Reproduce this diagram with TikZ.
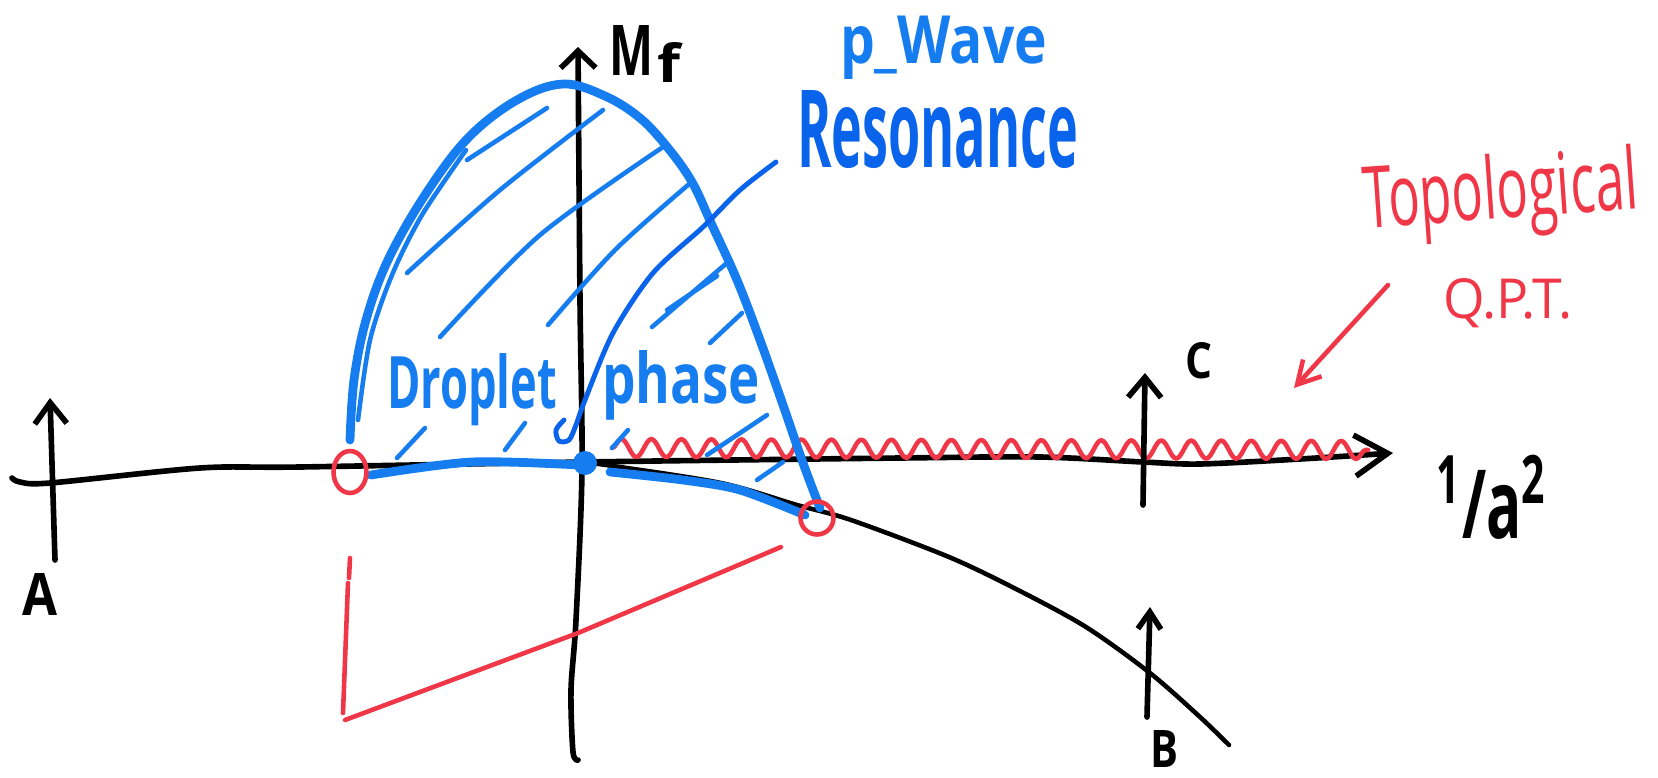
\documentclass[tikz,border=0pt]{standalone}
\usepackage{graphicx}
\usepackage{fontspec}
\setmainfont{Open Sans}
\usetikzlibrary{arrows.meta,decorations.pathmorphing,shapes.geometric}
\definecolor{hblue}{RGB}{22,125,240}
\definecolor{pblue}{RGB}{10,100,235}
\definecolor{hred}{RGB}{240,55,72}
\newcommand{\fitbox}[3]{\resizebox{#1}{#2}{#3}}
\begin{document}
\begin{tikzpicture}[x=0.02cm,y=-0.02cm,line cap=round,line join=round,
  ink/.style={black,line width=3.2pt},
  thinink/.style={black,line width=2.6pt},
  dome/.style={hblue,line width=5pt},
  hatch/.style={hblue,line width=2.6pt},
  pointer/.style={pblue,line width=2.8pt},
  redink/.style={hred,line width=2.6pt},
  lbl/.style={inner sep=0pt,outer sep=0pt,anchor=base west,font=\bfseries},
  redlbl/.style={inner sep=0pt,outer sep=0pt,anchor=base west,text=hred}]
\useasboundingbox (0,0) rectangle (1658,778);

% horizontal axis 1/a^2
\coordinate (axL) at (12,478);
\coordinate (axR) at (1393,453);
\draw[ink,-{Straight Barb[length=0.66cm,width=0.82cm]}] plot[smooth] coordinates {(axL)(20,482)(50,483)(200,468)(300,467)(585,462)(900,458)(1040,457)(1143,462)(1200,464)(1300,459)(axR)};

% vertical axis M_f
\coordinate (ayB) at (578,760);
\coordinate (ayT) at (578,47);
\draw[ink,-{Straight Barb[length=0.34cm,width=0.7cm]}] plot[smooth] coordinates {(ayB)(573,752)(571,690)(576,620)(582,470)(580,300)(ayT)};

% black curve
\coordinate (origin) at (585,463);
\coordinate (curveEnd) at (1229,745);
\draw[thinink] plot[smooth] coordinates {(origin)(606,465)(721,483)(797,505)(851,520)(949,557)(1018,590)(1086,627)(1150,673)(1200,717)(curveEnd)};

% red wave
\coordinate (waveL) at (612,448);
\coordinate (waveR) at (1368,450);
\draw[redink,decorate,decoration={snake,segment length=0.6cm,amplitude=0.18cm}] (waveL) -- (waveR);

% dome
\draw[dome] plot[smooth,tension=0.6] coordinates {(350,440)(354,380)(366,320)(388,260)(425,195)(468,138)(517,100)(563,84)(605,96)(640,118)(668,148)(692,182)(712,225)(737,280)(760,340)(783,405)(803,463)(820,508)};
\draw[hatch] plot[smooth] coordinates {(358,420)(370,340)(392,275)(422,215)(466,150)};

% blue lower lines
\draw[dome] plot[smooth] coordinates {(371,475)(472,462)(579,465)};
\draw[dome] plot[smooth] coordinates {(610,472)(683,480)(740,490)(805,515)};

% hatches
\draw[hatch] (467,160) -- (547,108);
\draw[hatch] plot[smooth] coordinates {(407,273)(500,190)(603,110)};
\draw[hatch] plot[smooth] coordinates {(440,337)(540,235)(663,147)};
\draw[hatch] plot[smooth] coordinates {(548,325)(615,250)(688,185)};
\draw[hatch] (652,327) -- (728,262);
\draw[hatch] (667,310) -- (717,276);
\draw[hatch] (710,343) -- (742,313);
\draw[hatch] (707,455) -- (767,415);
\draw[hatch] (612,448) -- (628,430);
\draw[hatch] (397,458) -- (425,428);
\draw[hatch] (505,450) -- (525,423);
\draw[hatch] (757,480) -- (783,462);

% blue dot and red circles
\fill[hblue] (origin) circle [radius=0.24cm];
\node[draw=hred,line width=2.6pt,ellipse,minimum width=0.66cm,minimum height=0.84cm,inner sep=0pt] (cL) at (350,472) {};
\node[draw=hred,line width=2.6pt,circle,minimum size=0.66cm,inner sep=0pt] (cR) at (817,518) {};

% red lower lines
\draw[redink] (350,558) -- (349,578);
\draw[redink] (348,583) -- (343,713);
\draw[redink] (345,720) -- (578,633) -- (781,547);

% arrows A, B, C
\coordinate (aA0) at (55,560); \coordinate (aA1) at (50,398);
\draw[ink,-{Straight Barb[length=0.42cm,width=0.64cm]}] (aA0) -- (aA1);
\coordinate (aC0) at (1143,505); \coordinate (aC1) at (1145,373);
\draw[ink,-{Straight Barb[length=0.4cm,width=0.66cm]}] (aC0) -- (aC1);
\coordinate (aB0) at (1147,717); \coordinate (aB1) at (1150,607);
\draw[ink,-{Straight Barb[length=0.34cm,width=0.46cm]}] (aB0) -- (aB1);

% labels
\node[lbl] (lA) at (22,615) {\fitbox{0.7cm}{0.84cm}{A}};
\node[lbl] (lB) at (1150,767) {\fitbox{0.56cm}{0.74cm}{B}};
\node[lbl] (lC) at (1185,378) {\fitbox{0.54cm}{0.72cm}{C}};
\node[lbl] (lM) at (609,75) {\fitbox{0.88cm}{1.0cm}{M}};
\node[lbl] (lf) at (657,82) {\fitbox{0.46cm}{0.8cm}{f}};
\node[lbl] (la) at (1436,538) {\fitbox{2.24cm}{1.66cm}{\textsuperscript{1}/a\textsuperscript{2}}};

\node[lbl,text=hblue] (droplet) at (387,408) {\fitbox{3.4cm}{1.1cm}{Droplet}};
\node[lbl,text=hblue] (phase) at (602,403) {\fitbox{3.16cm}{1.06cm}{phase}};
\node[lbl,text=hblue] (pwave) at (840,63) {\fitbox{4.14cm}{0.95cm}{p\_Wave}};
\node[lbl,text=pblue] (reso) at (797,167) {\fitbox{5.62cm}{1.54cm}{Resonance}};

\node[redlbl,rotate=4] (topo) at (1365,228) {\fitbox{5.5cm}{1.3cm}{Topological}};
\node[redlbl] (qpt) at (1443,318) {\fitbox{2.6cm}{0.8cm}{Q.P.T.}};

% pointer from Resonance to the origin
\draw[pointer] plot[smooth] coordinates {(776,162)(740,190)(703,227)(653,273)(613,333)(585,400)(576,425)(569,440)(559,441)(556,430)(564,420)};

% red arrow from Topological Q.P.T. to the wave
\coordinate (rA0) at (1388,285);
\coordinate (rA1) at (1294,388);
\draw[redink,-{Straight Barb[length=0.45cm,width=0.5cm]}] (rA0) -- (rA1);
\end{tikzpicture}
\end{document}
